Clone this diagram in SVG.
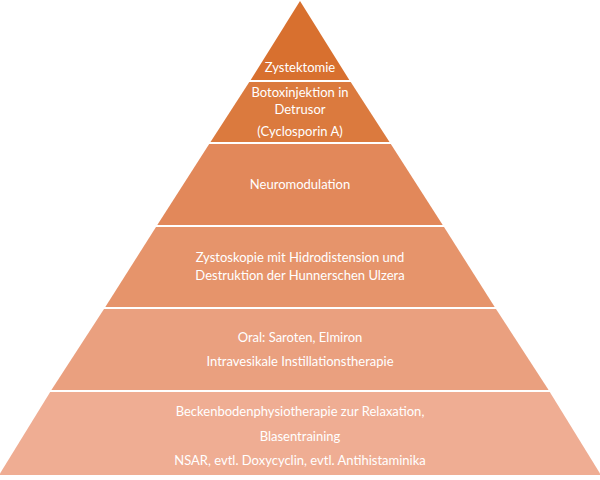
<svg xmlns="http://www.w3.org/2000/svg" width="600" height="480" viewBox="0 0 600 480">
<style>
text{font-family:Lato,"Open Sans",sans-serif;font-size:13px;fill:#fff;text-anchor:middle}
.sep{stroke:#fff;stroke-width:2}
</style>
<rect width="600" height="480" fill="#fff"/>
<g id="l1"><polygon points="300,1 349.3,80 250.7,80" fill="#D8702F"/><text x="300" y="72">Zystektomie</text></g>
<g id="l2"><polygon points="249.3,82 350.7,82 389.5,142 210.5,142" fill="#DB7A3E"/><text x="300" y="97">Botoxinjektion in</text><text x="300" y="114">Detrusor</text><text x="300" y="136">(Cyclosporin A)</text></g>
<g id="l3"><polygon points="209.2,144 390.8,144 442.7,225 157.3,225" fill="#E2885A"/><text x="300" y="189">Neuromodulation</text></g>
<g id="l4"><polygon points="156,227 444,227 494.7,307 105.3,307" fill="#E6946B"/><text x="300" y="262">Zystoskopie mit Hidrodistension und</text><text x="300" y="280">Destruktion der Hunnerschen Ulzera</text></g>
<g id="l5"><polygon points="104,309 496,309 548.6,390 51.4,390" fill="#EAA07F"/><text x="300" y="342">Oral: Saroten, Elmiron</text><text x="300" y="366">Intravesikale Instillationstherapie</text></g>
<g id="l6"><polygon points="50.2,392 549.8,392 601,475 -1,475" fill="#EFAD93"/><text x="300" y="416">Beckenbodenphysiotherapie  zur Relaxation,</text><text x="300" y="441">Blasentraining</text><text x="300" y="465">NSAR, evtl. Doxycyclin, evtl. Antihistaminika</text></g>
<g id="connectors"/>
</svg>
